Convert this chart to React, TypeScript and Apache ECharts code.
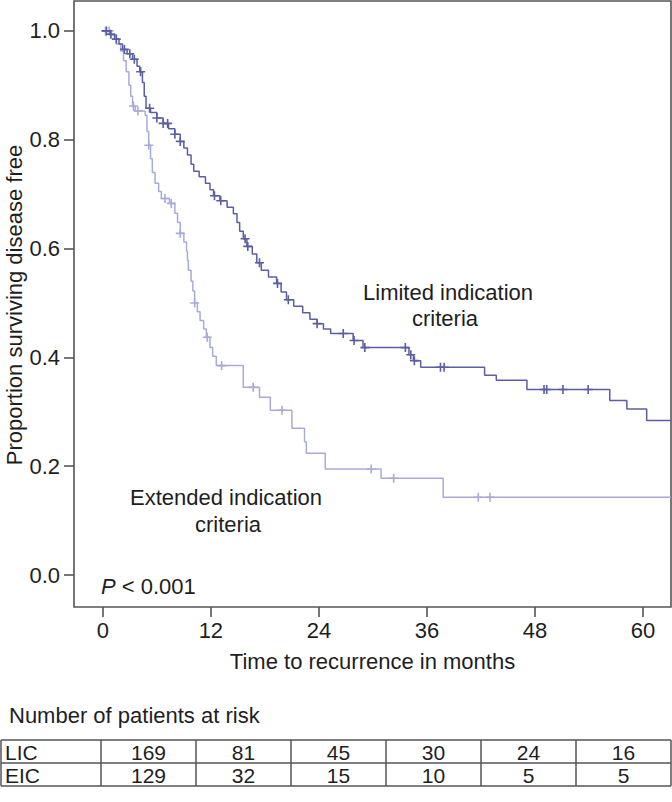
import React, { useEffect, useRef } from "react";
import * as echarts from "echarts";

const xTicks = [0, 12, 24, 36, 48, 60];
const yTicks = [0, 0.2, 0.4, 0.6, 0.8, 1.0];

// Kaplan-Meier step points [months, survival]
const licCurve: [number, number][] = [
  [0, 1.0], [0.8, 0.994], [1.3, 0.985], [1.8, 0.976], [2.2, 0.966], [2.7, 0.958],
  [3.3, 0.948], [3.8, 0.935], [4.1, 0.925], [4.4, 0.905], [4.6, 0.88], [4.8, 0.858],
  [5.3, 0.85], [6.0, 0.84], [6.7, 0.83], [7.3, 0.82], [8.0, 0.81], [8.6, 0.797],
  [9.0, 0.785], [9.4, 0.772], [9.8, 0.755], [10.1, 0.742], [10.7, 0.732], [11.4, 0.72],
  [11.9, 0.708], [12.3, 0.697], [13.0, 0.688], [13.8, 0.676], [14.5, 0.664], [14.9, 0.648],
  [15.2, 0.632], [15.6, 0.618], [16.0, 0.604], [16.6, 0.59], [17.1, 0.574], [17.6, 0.56],
  [18.4, 0.548], [19.3, 0.536], [19.8, 0.52], [20.4, 0.506], [21.2, 0.494], [22.2, 0.482],
  [23.0, 0.47], [23.8, 0.462], [24.5, 0.452], [25.3, 0.444], [27.8, 0.431], [28.9, 0.418],
  [34.0, 0.405], [34.5, 0.394], [35.3, 0.382], [42.4, 0.367], [43.7, 0.358], [47.1, 0.341],
  [56.3, 0.321], [58.2, 0.305], [60.4, 0.284], [63.1, 0.284],
];
const eicCurve: [number, number][] = [
  [0, 1.0], [0.8, 0.992], [1.5, 0.976], [2.0, 0.963], [2.3, 0.945], [2.6, 0.925],
  [2.9, 0.9], [3.1, 0.88], [3.3, 0.862], [3.6, 0.853], [4.7, 0.845], [4.9, 0.815],
  [5.1, 0.79], [5.3, 0.765], [5.5, 0.74], [5.8, 0.72], [6.2, 0.705], [6.5, 0.692],
  [7.4, 0.683], [8.0, 0.665], [8.3, 0.648], [8.6, 0.628], [9.0, 0.612], [9.3, 0.595],
  [9.4, 0.578], [9.5, 0.56], [9.8, 0.54], [10.0, 0.522], [10.2, 0.5], [10.5, 0.484],
  [10.8, 0.468], [11.2, 0.452], [11.5, 0.437], [11.9, 0.418], [12.2, 0.402], [12.6, 0.385],
  [15.6, 0.345], [17.4, 0.327], [18.6, 0.303], [21.0, 0.27], [22.4, 0.245], [22.6, 0.224],
  [24.7, 0.195], [30.9, 0.178], [37.8, 0.143], [63.1, 0.143],
];
// censoring times (months)
const licCensor = [0.4, 0.9, 1.5, 2.4, 3.0, 3.5, 4.2, 5.2, 6.0, 6.7, 7.2, 8.0, 8.6, 12.4, 13.1,
  15.8, 16.1, 17.4, 19.4, 20.6, 23.8, 26.7, 27.9, 29.1, 33.6, 34.2, 34.6, 37.5, 37.9, 49.0, 49.3, 51.1, 53.9];
const eicCensor = [0.3, 0.7, 3.4, 3.9, 5.1, 6.9, 7.6, 8.6, 10.2, 11.6, 13.2, 16.7, 19.9, 29.8, 32.3, 41.7, 43.0];

const riskLabels = ["LIC", "EIC"];
const licRisk = [169, 81, 45, 30, 24, 16];
const eicRisk = [129, 32, 15, 10, 5, 5];

const LIC_COLOR = "#5b5ea5";
const EIC_COLOR = "#a9abd7";
const FONT = "Liberation Sans";
const FS = 22;
const TEXT = "#1e1e1e";
const PLUS = "path://M4.1,0H5.9V4.1H10V5.9H5.9V10H4.1V5.9H0V4.1H4.1Z";

function survAt(curve: [number, number][], t: number) {
  let s = curve[0][1];
  for (const [ti, si] of curve) if (ti <= t) s = si;
  return s;
}

export default function App() {
  const ref = useRef<HTMLDivElement>(null);
  useEffect(() => {
    if (!ref.current) return;
    const chart = echarts.init(ref.current, null, { renderer: "svg" });

    const tableTop = 740, rowH = 23, labelW = 101, colW = 95, tLeft = 1, tRight = 671;
    const font = `${FS}px '${FONT}'`;
    const tFont = `21px '${FONT}'`;
    const graphics: any[] = [];
    const rows = [licRisk, eicRisk];
    for (let r = 0; r <= 2; r++) {
      graphics.push({ type: "line", shape: { x1: tLeft, y1: tableTop + r * rowH, x2: tRight, y2: tableTop + r * rowH }, style: { stroke: "#555", lineWidth: 1.5 } });
    }
    const seps = [tLeft, labelW];
    for (let c = 1; c <= 5; c++) seps.push(labelW + c * colW);
    seps.push(tRight);
    seps.forEach((x) => graphics.push({ type: "line", shape: { x1: x, y1: tableTop, x2: x, y2: tableTop + 2 * rowH }, style: { stroke: "#555", lineWidth: 1.5 } }));
    rows.forEach((vals, r) => {
      const cy = tableTop + r * rowH + rowH / 2 + 1;
      graphics.push({ type: "text", x: 5, y: cy, style: { text: riskLabels[r], font: tFont, fill: TEXT, verticalAlign: "middle", align: "left" } });
      vals.forEach((v, c) => {
        const cx = labelW + c * colW + colW / 2;
        graphics.push({ type: "text", x: cx, y: cy, style: { text: String(v), font: tFont, fill: TEXT, verticalAlign: "middle", align: "center" } });
      });
    });
    graphics.push({ type: "text", x: 9, y: 715, style: { text: "Number of patients at risk", font, fill: TEXT, verticalAlign: "middle", align: "left" } });
    graphics.push({ type: "text", x: 448, y: 292, style: { text: "Limited indication", font, fill: TEXT, verticalAlign: "middle", align: "center" } });
    graphics.push({ type: "text", x: 445, y: 318, style: { text: "criteria", font, fill: TEXT, verticalAlign: "middle", align: "center" } });
    graphics.push({ type: "text", x: 226, y: 497, style: { text: "Extended indication", font, fill: TEXT, verticalAlign: "middle", align: "center" } });
    graphics.push({ type: "text", x: 228, y: 524, style: { text: "criteria", font, fill: TEXT, verticalAlign: "middle", align: "center" } });
    graphics.push({ type: "text", x: 14, y: 305, rotation: Math.PI / 2, style: { text: "Proportion surviving disease free", font, fill: TEXT, verticalAlign: "middle", align: "center" } });
    graphics.push({
      type: "text", x: 101, y: 586,
      style: {
        text: "{i|P} < 0.001", fill: TEXT, verticalAlign: "middle", align: "left",
        font,
        rich: { i: { fontStyle: "italic", fontFamily: FONT, fontSize: FS, fill: TEXT } },
      },
    });

    chart.setOption({
      animation: false,
      backgroundColor: "#fff",
      grid: { left: 74, right: 1, top: 1, bottom: 195, show: true, borderColor: "#555", borderWidth: 1.6, backgroundColor: "transparent", outerBoundsMode: "none", containLabel: false },
      xAxis: {
        type: "value", min: -3.2, max: 63.1,
        axisLine: { show: false, onZero: false },
        splitLine: { show: false },
        axisTick: { show: true, customValues: xTicks, length: 10, lineStyle: { color: "#555", width: 1.6 } },
        axisLabel: { customValues: xTicks, fontFamily: FONT, fontSize: FS, color: TEXT, margin: 12 },
        name: "Time to recurrence in months", nameLocation: "middle", nameGap: 43,
        nameTextStyle: { fontFamily: FONT, fontSize: FS, color: TEXT },
      },
      yAxis: {
        type: "value", min: -0.0587, max: 1.055,
        axisLine: { show: false, onZero: false },
        splitLine: { show: false },
        axisTick: { show: true, customValues: yTicks, length: 10, lineStyle: { color: "#555", width: 1.6 } },
        axisLabel: { customValues: yTicks, fontFamily: FONT, fontSize: FS, color: TEXT, margin: 14, formatter: (v: number) => v.toFixed(1) },
      },
      series: [
        { type: "line", step: "end", data: eicCurve, showSymbol: false, symbol: "none", lineStyle: { color: EIC_COLOR, width: 1.5 }, z: 2 },
        { type: "line", step: "end", data: licCurve, showSymbol: false, symbol: "none", lineStyle: { color: LIC_COLOR, width: 1.5 }, z: 3 },
        { type: "scatter", data: eicCensor.map((t) => [t, survAt(eicCurve, t)]), symbol: PLUS, symbolSize: 9, itemStyle: { color: EIC_COLOR, opacity: 1 }, z: 2 },
        { type: "scatter", data: licCensor.map((t) => [t, survAt(licCurve, t)]), symbol: PLUS, symbolSize: 9, itemStyle: { color: LIC_COLOR, opacity: 1 }, z: 3 },
      ],
      graphic: graphics,
    });
    return () => chart.dispose();
  }, []);
  return <div ref={ref} style={{ position: "fixed", left: 0, top: 0, width: 672, height: 802 }} />;
}
